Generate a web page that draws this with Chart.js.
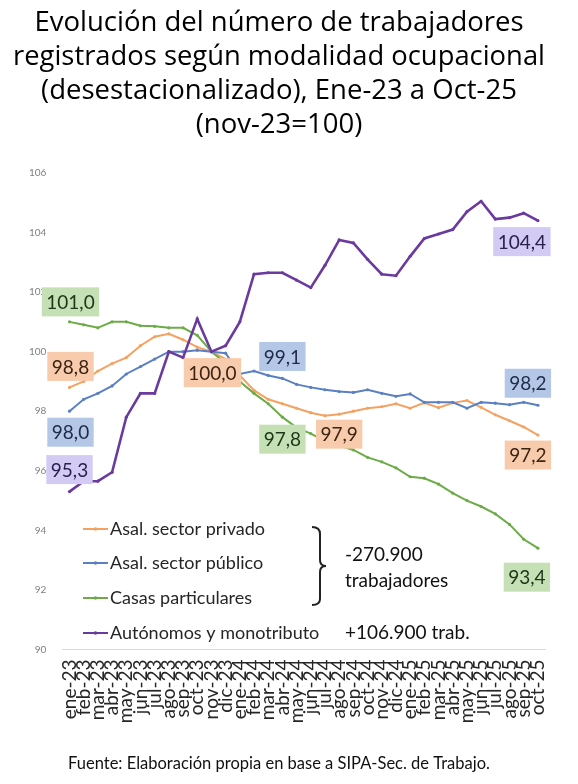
<!DOCTYPE html>
<html><head><meta charset="utf-8">
<script src="https://cdn.jsdelivr.net/npm/chart.js@4"></script>
<style>html,body{margin:0;padding:0;background:#fff;}canvas{display:block;}</style>
</head><body>
<canvas id="c" width="578" height="784" style="width:578px;height:784px"></canvas>
<script>
const categories = ["ene-23","feb-23","mar-23","abr-23","may-23","jun-23","jul-23","ago-23","sep-23","oct-23","nov-23","dic-23",
  "ene-24","feb-24","mar-24","abr-24","may-24","jun-24","jul-24","ago-24","sep-24","oct-24","nov-24","dic-24",
  "ene-25","feb-25","mar-25","abr-25","may-25","jun-25","jul-25","ago-25","sep-25","oct-25"];
const privado = [98.8,99.0,99.35,99.6,99.8,100.2,100.5,100.6,100.4,100.15,100.0,99.75,
  99.2,98.7,98.4,98.25,98.1,97.95,97.85,97.9,98.0,98.1,98.15,98.25,
  98.1,98.28,98.12,98.28,98.36,98.13,97.88,97.68,97.47,97.2];
const publico = [98.0,98.4,98.6,98.85,99.25,99.5,99.75,100.0,100.0,100.05,100.0,99.95,
  99.25,99.35,99.2,99.1,98.9,98.8,98.72,98.66,98.63,98.72,98.6,98.5,
  98.58,98.3,98.3,98.3,98.1,98.3,98.27,98.22,98.3,98.2];
const casas = [101.0,100.9,100.8,101.0,101.0,100.87,100.85,100.8,100.8,100.55,100.0,99.6,
  99.0,98.6,98.25,97.8,97.45,97.25,97.0,96.85,96.7,96.45,96.3,96.1,
  95.8,95.75,95.55,95.25,95.0,94.8,94.55,94.2,93.7,93.4];
const autonomos = [95.3,95.65,95.65,95.95,97.8,98.6,98.6,100.0,99.8,101.1,100.0,100.2,
  101.0,102.6,102.65,102.65,102.4,102.15,102.9,103.75,103.65,103.1,102.6,102.55,
  103.2,103.8,103.95,104.1,104.7,105.05,104.45,104.5,104.65,104.4];
const seriesNames = ["Asal. sector privado","Asal. sector público","Casas particulares","Autónomos y monotributo"];
const yMin = 90, yMax = 106, yStep = 2;
const titleLines = ["Evolución del número de trabajadores","registrados según modalidad ocupacional","(desestacionalizado), Ene-23 a Oct-25","(nov-23=100)"];
const sourceText = "Fuente: Elaboración propia en base a SIPA-Sec. de Trabajo.";
const bracketLines = ["-270.900","trabajadores"];
const autonomosNote = "+106.900 trab.";

// styles
const lineColors = ["#f4a262","#5a7fc2","#6cab48","#6b3a9e"];
const boxBg = ["#f8cbad","#b4c7e7","#c5e0b4","#d3cbf3"];
const boxFg = ["#3b2414","#1f2c48","#1c361a","#2b2150"];
// labels: [dataset, index, dx, dy]
const valueLabels = [[2,0,1,-20],[0,0,1,-21],[1,0,1,21],[3,0,0,-22],[0,10,1,21],[1,15,0,-22],[2,15,0,22],[0,19,0,20],
  [3,33,-16,21],[1,33,-10,-22],[0,33,-10,20],[2,33,-11,29]];

const overlay = {
  id:'overlay',
  afterDatasetsDraw(chart){
    const ctx = chart.ctx, xs = chart.scales.x, ys = chart.scales.y;
    ctx.save();
    ctx.font = '19px Lato';
    ctx.textAlign = 'center'; ctx.textBaseline = 'middle';
    for (const [d,i,dx,dy] of valueLabels){
      const v = chart.data.datasets[d].data[i];
      const x = xs.getPixelForValue(i) + dx;
      const y = ys.getPixelForValue(v) + dy;
      const txt = v.toFixed(1).replace('.',',');
      const w = ctx.measureText(txt).width + 9, h = 29;
      ctx.fillStyle = boxBg[d]; ctx.fillRect(x-w/2, y-h/2, w, h);
      ctx.fillStyle = boxFg[d]; ctx.fillText(txt, x, y+1);
    }
    // legend
    const ly = [529,563,598,633];
    ctx.textAlign = 'left';
    ctx.font = '18px Lato';
    seriesNames.forEach((n,k)=>{
      ctx.strokeStyle = lineColors[k]; ctx.lineWidth = 2;
      ctx.beginPath(); ctx.moveTo(83,ly[k]); ctx.lineTo(108,ly[k]); ctx.stroke();
      ctx.fillStyle = lineColors[k];
      ctx.beginPath(); ctx.arc(95.5,ly[k],1.8,0,Math.PI*2); ctx.fill();
      ctx.fillStyle = '#262626'; ctx.fillText(n, 110, ly[k]);
    });
    // bracket
    ctx.strokeStyle = '#222'; ctx.lineWidth = 2;
    ctx.beginPath();
    ctx.moveTo(312,527); ctx.quadraticCurveTo(320,527,320,534);
    ctx.lineTo(320,560); ctx.quadraticCurveTo(320,566,326,566);
    ctx.quadraticCurveTo(320,566,320,572); ctx.lineTo(320,599);
    ctx.quadraticCurveTo(320,605,312,605);
    ctx.stroke();
    ctx.font = '19px Lato'; ctx.fillStyle = '#111';
    ctx.fillText(bracketLines[0], 345, 555);
    ctx.fillText(bracketLines[1], 345, 581);
    ctx.fillText(autonomosNote, 345, 633);
    ctx.restore();
  }
};

const series = [privado, publico, casas, autonomos];
new Chart(document.getElementById('c'), {
  type:'line',
  data:{
    labels: categories,
    datasets: series.map((s,k)=>({
      label: seriesNames[k], data: s,
      borderColor: lineColors[k], backgroundColor: lineColors[k],
      borderWidth: k===3 ? 2.6 : 2, pointRadius: 1.6, pointHoverRadius: 1.6,
      pointBorderWidth: 0, tension: 0, order: 4-k
    }))
  },
  options:{
    responsive:false, animation:false, devicePixelRatio:1,
    layout:{padding:{left:13,right:33,top:0,bottom:0}},
    plugins:{
      legend:{display:false}, tooltip:{enabled:false},
      title:{display:true, text:titleLines, color:'#000', font:{family:'Open Sans', size:27.5, weight:'normal', lineHeight:1.236}, padding:{top:6,bottom:31}},
      subtitle:{display:true, position:'bottom', text:sourceText, color:'#111', font:{family:'Lato', size:16.5, weight:'normal'}, padding:{top:21,bottom:10}}
    },
    scales:{
      x:{offset:true, grid:{display:false, drawTicks:false}, border:{display:true, color:'#d9d9d9', width:1},
         ticks:{autoSkip:false, maxRotation:90, minRotation:90, padding:10, color:'#262626', font:{family:'Lato', size:19}}},
      y:{min:yMin, max:yMax, grid:{display:false, drawTicks:false}, border:{display:false},
         ticks:{stepSize:yStep, padding:16, color:'#7f7f7f', font:{family:'Lato', size:10}}}
    }
  },
  plugins:[overlay]
});
</script>
</body></html>
